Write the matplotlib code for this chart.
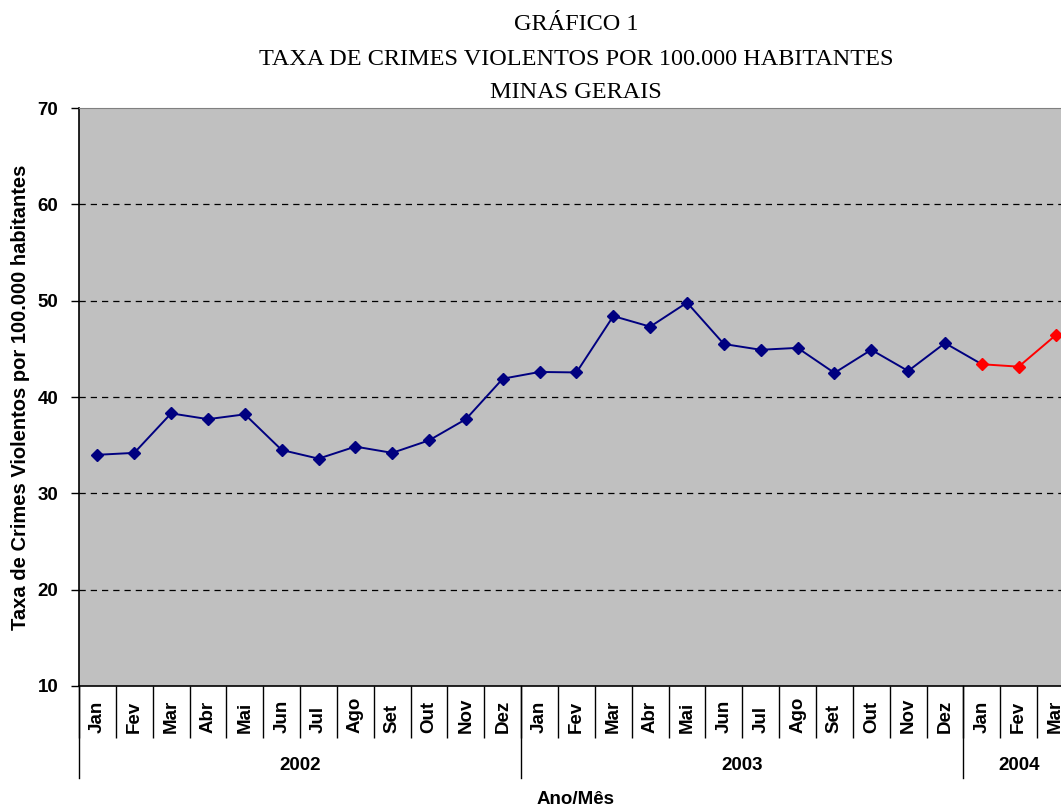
import matplotlib
matplotlib.use("Agg")
import matplotlib.pyplot as plt
import matplotlib.transforms as mtransforms

months = ["Jan", "Fev", "Mar", "Abr", "Mai", "Jun", "Jul", "Ago", "Set", "Out", "Nov", "Dez",
          "Jan", "Fev", "Mar", "Abr", "Mai", "Jun", "Jul", "Ago", "Set", "Out", "Nov", "Dez",
          "Jan", "Fev", "Mar"]
years = ["2002", "2003", "2004"]
year_counts = [12, 12, 3]
rate_2002_2003 = [34.0, 34.2, 38.3, 37.7, 38.2, 34.5, 33.6, 34.85, 34.2, 35.5, 37.7, 41.9,
                  42.6, 42.55, 48.4, 47.3, 49.8, 45.5, 44.9, 45.1, 42.5, 44.9, 42.7, 45.6]
rate_2004 = [43.4, 43.15, 46.4]

W, H = 1061, 808
fig = plt.figure(figsize=(W / 100, H / 100), dpi=100)
left_px, top_px, bottom_px = 79, 108, 686
cat_w = 36.85
n = len(months)
ax = fig.add_axes([left_px / W, (H - bottom_px) / H, n * cat_w / W, (bottom_px - top_px) / H])
ax.set_facecolor("#C0C0C0")

x1 = [i + 0.5 for i in range(len(rate_2002_2003))]
x2 = [len(rate_2002_2003) + i + 0.5 for i in range(len(rate_2004))]
ax.plot(x1 + [x2[0]], rate_2002_2003 + [rate_2004[0]], color="#000080", lw=1.4, zorder=3)
ax.plot(x1, rate_2002_2003, ls="none", marker="D", ms=6.5, color="#000080", zorder=4)
ax.plot(x2, rate_2004, color="#FF0000", lw=1.4, marker="D", ms=6.5, zorder=4)

ax.set_xlim(0, n)
ax.set_ylim(10, 70)
ax.set_yticks(range(10, 71, 10))
for v in range(20, 70, 10):
    ax.axhline(v, color="black", lw=0.9, ls=(0, (5, 4)), zorder=1)

ax.tick_params(axis="y", length=6, width=1, pad=9, labelsize=13.5)
for t in ax.get_yticklabels():
    t.set_fontweight("bold")
    t.set_fontfamily("Liberation Sans")

# x axis: category separators
ax.set_xticks(range(0, n + 1))
ax.set_xticklabels([])
ax.tick_params(axis="x", length=51.5 * 0.72, width=1, direction="out", color="black")

ax.spines["left"].set_color("black")
ax.spines["bottom"].set_color("black")
ax.spines["top"].set_color("#808080")
ax.spines["right"].set_visible(False)
ax.spines["left"].set_linewidth(1.2)
ax.spines["bottom"].set_linewidth(1.2)

ax_h = bottom_px - top_px
trans = mtransforms.blended_transform_factory(ax.transData, ax.transAxes)
month_bottom = -(733 - bottom_px) / ax_h
for i, m in enumerate(months):
    ax.text(i + 0.5, month_bottom, m, rotation=90, ha="center", va="bottom",
            transform=trans, fontsize=13.5, fontweight="bold", family="Liberation Sans",
            clip_on=False)

# year separators and labels
sep_bottom = -(778 - bottom_px) / ax_h
year_y = -(765 - bottom_px) / ax_h
start = 0
for yr, c in zip(years, year_counts):
    ax.plot([start, start], [0, sep_bottom], color="black", lw=1, transform=trans, clip_on=False)
    ax.text(start + c / 2, year_y, yr, ha="center", va="center", transform=trans,
            fontsize=13.5, fontweight="bold", family="Liberation Sans", clip_on=False)
    start += c
ax.plot([start, start], [0, sep_bottom], color="black", lw=1, transform=trans, clip_on=False)

fig.text((left_px + n * cat_w / 2 - 1) / W, 1 - 800 / H, "Ano/Mês", ha="center", va="center",
         fontsize=13.5, fontweight="bold", family="Liberation Sans")
fig.text(21 / W, 1 - 397 / H, "Taxa de Crimes Violentos por 100.000 habitantes", rotation=90,
         ha="center", va="center", fontsize=14.5, fontweight="bold", family="Liberation Sans")

title_lines = ["GRÁFICO 1", "TAXA DE CRIMES VIOLENTOS POR 100.000 HABITANTES", "MINAS GERAIS"]
for yy, line in zip([24, 59.5, 93], title_lines):
    fig.text(576 / W, 1 - yy / H, line, ha="center", va="center", fontsize=17.5,
             family="Liberation Serif")

fig.savefig("out.png", dpi=100)
